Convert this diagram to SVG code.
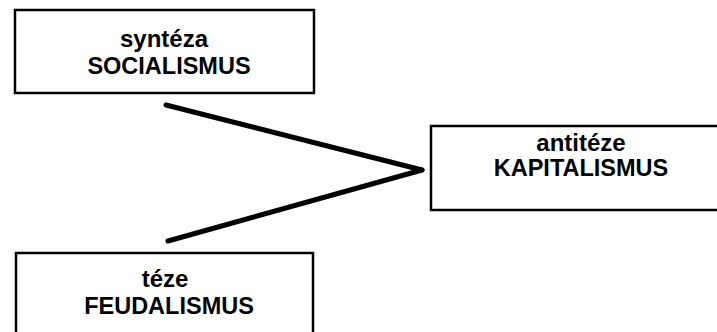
<svg xmlns="http://www.w3.org/2000/svg" width="717" height="332" viewBox="0 0 717 332">
<style>
.box{fill:#fff;stroke:#000;stroke-width:2.5}
.t{font-family:"Liberation Sans",Arial,sans-serif;font-weight:bold;font-size:24px;fill:#000;text-anchor:middle}
.caps{font-size:23.5px}
.link{stroke:#000;stroke-width:5;stroke-linecap:round;fill:none}
</style>
<rect width="717" height="332" fill="#fff"/>
<g id="connectors">
<line class="link" x1="166" y1="105" x2="422" y2="170"/>
<line class="link" x1="168" y1="241" x2="422" y2="170"/>
</g>
<g id="synteza">
<rect class="box" x="15" y="10" width="299" height="83"/>
<text class="t" x="164" y="47">syntéza</text>
<text class="t caps" x="169" y="74">SOCIALISMUS</text>
</g>
<g id="antiteze">
<rect class="box" x="431" y="126" width="290" height="84"/>
<text class="t" x="581" y="151">antitéze</text>
<text class="t caps" x="581" y="176">KAPITALISMUS</text>
</g>
<g id="teze">
<rect class="box" x="16" y="253" width="297" height="90"/>
<text class="t" x="165" y="287">téze</text>
<text class="t caps" x="169" y="314">FEUDALISMUS</text>
</g>
</svg>
